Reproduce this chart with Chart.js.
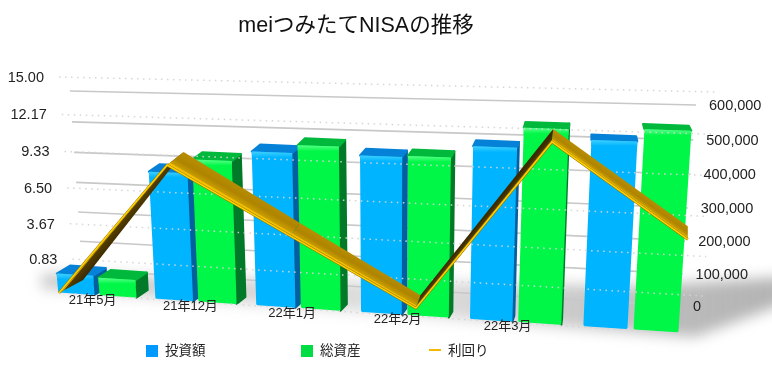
<!DOCTYPE html>
<html lang="ja">
<head>
<meta charset="utf-8">
<title>meiつみたてNISAの推移</title>
<script src="https://cdn.jsdelivr.net/npm/chart.js@4"></script>
<style>
  html, body { margin: 0; background: #fff; }
  canvas { display: block; }
</style>
</head>
<body>
<canvas id="nisa" width="772" height="366"></canvas>
<script>
const months = ["21年5月", "21年12月", "22年1月", "22年2月", "22年3月", ""];
const invested = [55000, 353000, 417000, 417000, 450000, 475000];
const totalAssets = [50000, 390000, 438000, 420000, 500000, 505000];
const yieldRate = [-2, 8.6, 3.6, -1.4, 11.3, 4.8];

const FONT = '"Liberation Sans", "Noto Sans CJK JP", sans-serif';

// planes of the fake 3D box, corners are TL, TR, BR, BL
const barPlane = [[33, 76], [706, 91], [690, 333], [49, 292]];
const linePlane = [[45, 77], [697, 92], [682, 333], [59, 293]];
const dotPlane = [[59, 77], [715, 92], [702, 335], [75, 294]];
const wallPlane = [[70, 91], [696, 105], [680, 306], [82, 270]];
const labelPlane = [[30, 78], [700, 93], [681, 334], [45, 293]];
const legendSlots = [146, 301, 429];

// unit square -> quad homography
function homography(q) {
  const [[x0, y0], [x1, y1], [x2, y2], [x3, y3]] = q;
  const dx1 = x1 - x2, dx2 = x3 - x2, sx = x0 - x1 + x2 - x3;
  const dy1 = y1 - y2, dy2 = y3 - y2, sy = y0 - y1 + y2 - y3;
  const den = dx1 * dy2 - dx2 * dy1;
  const g = (sx * dy2 - dx2 * sy) / den;
  const h = (dx1 * sy - sx * dy1) / den;
  return (u, v) => {
    const w = g * u + h * v + 1;
    return [
      ((x1 - x0 + g * x1) * u + (x3 - x0 + h * x3) * v + x0) / w,
      ((y1 - y0 + g * y1) * u + (y3 - y0 + h * y3) * v + y0) / w,
    ];
  };
}

function poly(ctx, pts) {
  ctx.beginPath();
  pts.forEach((p, i) => (i ? ctx.lineTo(p[0], p[1]) : ctx.moveTo(p[0], p[1])));
  ctx.closePath();
}

function mix(a, b, t) {
  return [a[0] + (b[0] - a[0]) * t, a[1] + (b[1] - a[1]) * t];
}

function drawBar(ctx, tl, tr, br, bl, c) {
  const depth = (p) => [p[0] + (590 - p[0]) * 0.025, p[1] - (8 - (3 * (p[0] - 50)) / 640)];
  const tlb = depth(tl), trb = depth(tr), brb = depth(br);
  ctx.lineJoin = "round";
  ctx.lineWidth = 2;
  // right side only shows left of the vanishing point
  if (trb[0] > tr[0]) {
    poly(ctx, [tr, trb, brb, br]);
    ctx.fillStyle = ctx.strokeStyle = c.side;
    ctx.fill();
    ctx.stroke();
  }
  poly(ctx, [tl, tr, trb, tlb]);
  ctx.fillStyle = ctx.strokeStyle = c.top;
  ctx.fill();
  ctx.stroke();
  // front face pulled in a little, the wide round stroke gives the soft corners
  const tl1 = [tl[0] + 1.5, tl[1] + 1.5], tr1 = [tr[0] - 1.5, tr[1] + 1.5];
  const br1 = [br[0] - 1.5, br[1] - 1.5], bl1 = [bl[0] + 1.5, bl[1] - 1.5];
  ctx.lineWidth = 3;
  poly(ctx, [tl1, tr1, br1, bl1]);
  ctx.fillStyle = ctx.strokeStyle = c.front;
  ctx.fill();
  ctx.stroke();
  // bevel highlight on the top edge
  const g = ctx.createLinearGradient(0, Math.min(tl[1], tr[1]), 0, Math.min(tl[1], tr[1]) + 6);
  g.addColorStop(0, c.light);
  g.addColorStop(1, c.front);
  poly(ctx, [tl, tr, mix(tr, br, 6 / (br[1] - tr[1])), mix(tl, bl, 6 / (bl[1] - tl[1]))]);
  ctx.fillStyle = g;
  ctx.fill();
}

function drawRibbon(ctx, pts) {
  const back = (p) => [p[0] + 24 * Math.pow((690 - p[0]) / 630, 2), p[1] - 13];
  for (let i = 0; i < pts.length - 1; i++) {
    const a = pts[i], b = pts[i + 1];
    const a2 = back(a), b2 = back(b);
    const rising = b[1] < a[1];
    // gradient runs across the ribbon, front edge to back edge
    const nx = -(b[1] - a[1]), ny = b[0] - a[0];
    const len = Math.hypot(nx, ny);
    const off = ((a2[0] - a[0]) * nx + (a2[1] - a[1]) * ny) / len;
    const g = ctx.createLinearGradient(a[0], a[1], a[0] + (nx / len) * off, a[1] + (ny / len) * off);
    if (rising) {
      g.addColorStop(0, "#5a4200");
      g.addColorStop(1, "#3a2a00");
    } else {
      g.addColorStop(0, "#d8ac00");
      g.addColorStop(0.5, "#ae8400");
      g.addColorStop(1, "#b88e00");
    }
    poly(ctx, [a, b, b2, a2]);
    ctx.fillStyle = g;
    ctx.fill();
    // yellow front edge, wider where the ribbon faces us
    poly(ctx, [a, b, mix(b, b2, 0.18), mix(a, a2, 0.18)]);
    ctx.fillStyle = "#f5c000";
    ctx.fill();
  }
  ctx.beginPath();
  pts.forEach((p, i) => (i ? ctx.lineTo(p[0], p[1]) : ctx.moveTo(p[0], p[1])));
  ctx.strokeStyle = "#9a7400";
  ctx.lineWidth = 2.5;
  ctx.lineJoin = "miter";
  ctx.stroke();
  ctx.strokeStyle = "#ffd400";
  ctx.lineWidth = 1.5;
  ctx.stroke();
}

const scene3d = {
  id: "scene3d",
  beforeDatasetDraw() {
    return false; // everything is projected in afterDatasetsDraw
  },
  afterDatasetsDraw(chart) {
    const { ctx, chartArea: area, scales } = chart;
    const uOf = (x) => (x - area.left) / area.width;
    const vOf = (y) => (y - area.top) / area.height;
    const onBar = homography(barPlane), onLine = homography(linePlane);
    const onDot = homography(dotPlane), onWall = homography(wallPlane);
    const onLabel = homography(labelPlane);

    ctx.save();

    // floor shadow
    ctx.save();
    ctx.filter = "blur(7px)";
    const fade = ctx.createLinearGradient(30, 0, 772, 0);
    fade.addColorStop(0, "rgba(120,120,120,0.45)");
    fade.addColorStop(0.5, "rgba(150,150,150,0.3)");
    fade.addColorStop(0.88, "rgba(130,130,130,0.55)");
    fade.addColorStop(1, "rgba(130,130,130,0.6)");
    poly(ctx, [[42, 274], [640, 286], [800, 276], [800, 298], [695, 337], [42, 288]]);
    ctx.fillStyle = fade;
    ctx.fill();
    ctx.restore();

    // back wall grid
    ctx.strokeStyle = "#c8c8c8";
    ctx.lineWidth = 1.6;
    scales.yR.ticks.forEach((t) => {
      const v = vOf(scales.yR.getPixelForValue(t.value));
      const a = onWall(0, v), b = onWall(1, v);
      ctx.beginPath();
      ctx.moveTo(a[0], a[1]);
      ctx.lineTo(b[0], b[1]);
      ctx.stroke();
    });

    // bars, one dataset after the other per category
    const barStyles = [
      { front: "#00b4ff", top: "#0582d8", side: "#035f9e", light: "#3fd0ff" },
      { front: "#00f748", top: "#00b93c", side: "#007a28", light: "#5cff8a" },
    ];
    months.forEach((m, i) => {
      [0, 1].forEach((d) => {
        const bar = chart.getDatasetMeta(d).data[i];
        const l = uOf(bar.x - bar.width / 2), r = uOf(bar.x + bar.width / 2);
        const t = vOf(bar.y), b = vOf(bar.base);
        drawBar(ctx, onBar(l, t), onBar(r, t), onBar(r, b), onBar(l, b), barStyles[d]);
      });
    });

    // front dotted grid, sits on top of the bars
    ctx.strokeStyle = "rgba(212,212,212,0.95)";
    ctx.lineWidth = 1.5;
    ctx.setLineDash([1.5, 4.5]);
    scales.yL.ticks.forEach((t) => {
      const v = vOf(scales.yL.getPixelForValue(t.value));
      const a = onDot(0, v), b = onDot(1, v);
      ctx.beginPath();
      ctx.moveTo(a[0], a[1]);
      ctx.lineTo(b[0], b[1]);
      ctx.stroke();
    });
    ctx.setLineDash([]);

    // yield ribbon, runs edge to edge so it reads x from the unoffset axis
    const pts = chart.getDatasetMeta(2).data.map((p, i) => onLine(uOf(scales.x2.getPixelForTick(i)), vOf(p.y)));
    drawRibbon(ctx, pts);

    // axis text
    ctx.fillStyle = "#222";
    ctx.font = "14.5px " + FONT;
    ctx.textBaseline = "middle";
    ctx.textAlign = "right";
    scales.yL.ticks.forEach((t) => {
      if (!t.label) return;
      const p = onDot(0, vOf(scales.yL.getPixelForValue(t.value)));
      ctx.fillText(t.label, p[0] - 15, p[1] + 1);
    });
    ctx.textAlign = "left";
    scales.yR.ticks.forEach((t) => {
      const p = onWall(1, vOf(scales.yR.getPixelForValue(t.value)));
      ctx.fillText(t.label, p[0] + 13, p[1] + 1);
    });
    ctx.font = "13px " + FONT;
    ctx.textAlign = "center";
    scales.x.ticks.forEach((t, i) => {
      const p = onLabel(uOf(scales.x.getPixelForTick(i)), 1);
      ctx.fillText(months[t.value], p[0], p[1] + 4);
    });

    // legend, spacing in the original is uneven
    ctx.font = "13.5px " + FONT;
    ctx.textAlign = "left";
    chart.data.datasets.forEach((ds, i) => {
      const x = legendSlots[i];
      if (ds.type === "line") {
        ctx.fillStyle = ds.borderColor;
        ctx.fillRect(x, 349, 12, 2);
      } else {
        ctx.fillStyle = ds.backgroundColor;
        ctx.fillRect(x, 345, 12, 12);
      }
      ctx.fillStyle = "#222";
      ctx.fillText(ds.label, x + 19, 351);
    });

    ctx.restore();
  },
};

new Chart(document.getElementById("nisa"), {
  type: "bar",
  data: {
    labels: months,
    datasets: [
      { label: "投資額", data: invested, backgroundColor: "#0099ff", yAxisID: "yR", categoryPercentage: 0.86, barPercentage: 0.88 },
      { label: "総資産", data: totalAssets, backgroundColor: "#00dd44", yAxisID: "yR", categoryPercentage: 0.86, barPercentage: 0.88 },
      { label: "利回り", type: "line", data: yieldRate, borderColor: "#f5b800", yAxisID: "yL" },
    ],
  },
  options: {
    responsive: false,
    animation: false,
    layout: { padding: { left: 0, right: 60, top: 0, bottom: 40 } },
    plugins: {
      legend: { display: false },
      tooltip: { enabled: false },
      title: {
        display: true,
        text: "meiつみたてNISAの推移",
        color: "#111",
        font: { family: FONT, size: 21.5, weight: "normal" },
        padding: { top: 13, bottom: 10 },
      },
    },
    scales: {
      x: { type: "category", offset: true, display: false, ticks: { autoSkip: false } },
      x2: { type: "category", offset: false, display: false, ticks: { autoSkip: false } },
      yL: {
        position: "left",
        display: false,
        min: -2,
        max: 15,
        ticks: {
          count: 7,
          callback: (v) => (v <= -1.99 ? "" : v.toFixed(2)),
        },
      },
      yR: {
        position: "right",
        display: false,
        min: 0,
        max: 600000,
        ticks: {
          stepSize: 100000,
          callback: (v) => v.toLocaleString("en-US"),
        },
      },
    },
  },
  plugins: [scene3d],
});
</script>
</body>
</html>
